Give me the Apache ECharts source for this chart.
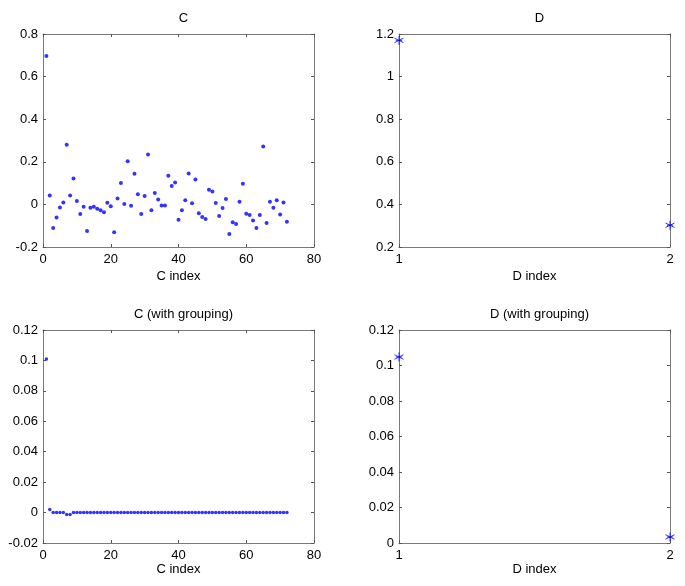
<!DOCTYPE html>
<html>
<head>
<meta charset="utf-8">
<script src="https://cdn.jsdelivr.net/npm/echarts@6/dist/echarts.min.js"></script>
<style>html,body{margin:0;padding:0;background:#fff}#main{width:685px;height:586px}</style>
</head>
<body>
<div id="main"></div>
<script>
// ---- data ----
var cValues = [0.697,0.042,-0.111,-0.062,-0.014,0.009,0.280,0.042,0.122,0.016,
  -0.045,-0.011,-0.125,-0.016,-0.011,-0.020,-0.028,-0.037,0.008,-0.009,
  -0.131,0.028,0.100,0.002,0.203,-0.006,0.144,0.048,-0.045,0.039,
  0.234,-0.027,0.053,0.023,-0.005,-0.005,0.134,0.086,0.103,-0.072,
  -0.028,0.019,0.145,0.005,0.117,-0.041,-0.059,-0.069,0.069,0.061,
  0.006,-0.055,-0.017,0.025,-0.139,-0.084,-0.092,0.012,0.097,-0.044,
  -0.050,-0.075,-0.111,-0.050,0.272,-0.087,0.012,-0.016,0.019,-0.047,
  0.009,-0.081];
var cGroupValues = [0.101,0.002,0,0,0,0,-0.0013,-0.0013,0,0,
  0,0,0,0,0,0,0,0,0,0,
  0,0,0,0,0,0,0,0,0,0,
  0,0,0,0,0,0,0,0,0,0,
  0,0,0,0,0,0,0,0,0,0,
  0,0,0,0,0,0,0,0,0,0,
  0,0,0,0,0,0,0,0,0,0,
  0,0];
var dValues = [1.170, 0.302];
var dGroupValues = [0.1048, 0.0034];
var titles = ['C', 'D', 'C (with grouping)', 'D (with grouping)'];
var xNames = ['C index', 'D index', 'C index', 'D index'];

// ---- layout / styling ----
var FONT = 'Liberation Sans, Arial, sans-serif';
var grids = [
  {left: 43, top: 34, width: 271, height: 213},
  {left: 399, top: 34, width: 271, height: 213},
  {left: 43, top: 330, width: 271, height: 213},
  {left: 399, top: 330, width: 271, height: 213}
];
var xCfg = [
  {min: 0, max: 80, interval: 20},
  {min: 1, max: 2, interval: 1},
  {min: 0, max: 80, interval: 20},
  {min: 1, max: 2, interval: 1}
];
var yCfg = [
  {min: -0.2, max: 0.8, interval: 0.2},
  {min: 0.2, max: 1.2, interval: 0.2},
  {min: -0.02, max: 0.12, interval: 0.02},
  {min: 0, max: 0.12, interval: 0.02}
];
var nameGaps = [23, 23, 20, 20];
var lineCol = '#7a7a7a';

var xAxes = [], yAxes = [], titleArr = [];
for (var i = 0; i < 4; i++) {
  var g = grids[i];
  titleArr.push({
    text: titles[i], left: g.left + g.width / 2, top: g.top - 27, textAlign: 'center',
    textStyle: {fontFamily: FONT, fontSize: 13, fontWeight: 'normal', color: '#000'}
  });
  xAxes.push({
    gridIndex: i, type: 'value', position: 'bottom', min: xCfg[i].min, max: xCfg[i].max, interval: xCfg[i].interval,
    name: xNames[i], nameLocation: 'middle', nameGap: nameGaps[i],
    nameTextStyle: {fontFamily: FONT, fontSize: 13, color: '#000'},
    axisLine: {show: true, onZero: false, lineStyle: {color: lineCol, width: 1}},
    axisTick: {show: true, inside: true, length: 3, lineStyle: {color: '#555'}},
    axisLabel: {show: true, margin: 6, fontFamily: FONT, fontSize: 13, color: '#000'},
    splitLine: {show: false}
  });
  xAxes.push({
    gridIndex: i, type: 'value', position: 'top', min: xCfg[i].min, max: xCfg[i].max, interval: xCfg[i].interval,
    axisLine: {show: true, onZero: false, lineStyle: {color: lineCol, width: 1}},
    axisTick: {show: true, inside: true, length: 3, lineStyle: {color: '#555'}},
    axisLabel: {show: false}, splitLine: {show: false}
  });
  yAxes.push({
    gridIndex: i, type: 'value', position: 'left', min: yCfg[i].min, max: yCfg[i].max, interval: yCfg[i].interval,
    axisLine: {show: true, onZero: false, lineStyle: {color: lineCol, width: 1}},
    axisTick: {show: true, inside: true, length: 3, lineStyle: {color: '#555'}},
    axisLabel: {show: true, margin: 5, fontFamily: FONT, fontSize: 13, color: '#000'},
    splitLine: {show: false}
  });
  yAxes.push({
    gridIndex: i, type: 'value', position: 'right', min: yCfg[i].min, max: yCfg[i].max, interval: yCfg[i].interval,
    axisLine: {show: true, onZero: false, lineStyle: {color: lineCol, width: 1}},
    axisTick: {show: true, inside: true, length: 3, lineStyle: {color: '#555'}},
    axisLabel: {show: false}, splitLine: {show: false}
  });
}

function pairs(arr) { return arr.map(function (v, k) { return [k + 1, v]; }); }
var asterisk = 'path://M0,-5L0,5M-4.3,-2.5L4.3,2.5M-4.3,2.5L4.3,-2.5M-3,0L3,0';
var BLUE = '#0000ff';

var series = [
  {type: 'scatter', xAxisIndex: 0, yAxisIndex: 0, data: pairs(cValues), symbol: 'circle', symbolSize: 4,
   itemStyle: {color: BLUE}, silent: true},
  {type: 'scatter', xAxisIndex: 2, yAxisIndex: 2, data: pairs(dValues), symbol: asterisk, symbolSize: 9,
   itemStyle: {color: 'rgba(0,0,0,0)', borderColor: BLUE, borderWidth: 1}, silent: true},
  {type: 'scatter', xAxisIndex: 4, yAxisIndex: 4, data: pairs(cGroupValues), symbol: 'circle', symbolSize: 3.5,
   itemStyle: {color: BLUE}, silent: true},
  {type: 'scatter', xAxisIndex: 6, yAxisIndex: 6, data: pairs(dGroupValues), symbol: asterisk, symbolSize: 9,
   itemStyle: {color: 'rgba(0,0,0,0)', borderColor: BLUE, borderWidth: 1}, silent: true}
];

var chart = echarts.init(document.getElementById('main'), null, {renderer: 'canvas'});
chart.setOption({
  animation: false,
  backgroundColor: '#fff',
  title: titleArr,
  grid: grids,
  xAxis: xAxes,
  yAxis: yAxes,
  series: series
});
</script>
</body>
</html>
